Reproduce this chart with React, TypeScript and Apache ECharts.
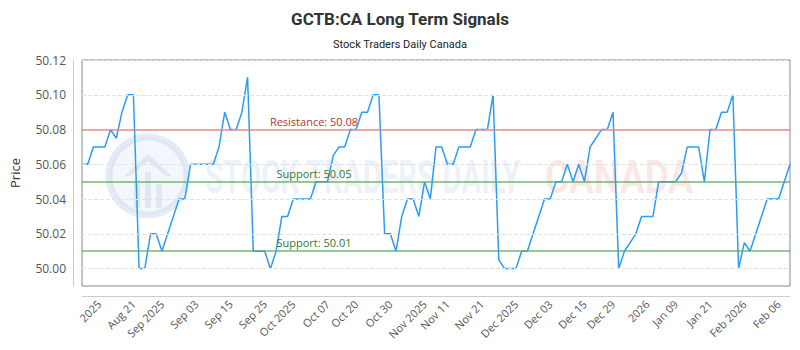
import { useEffect, useRef } from "react";
import * as echarts from "echarts";

const titleText = "GCTB:CA Long Term Signals";
const subtitleText = "Stock Traders Daily Canada";

const prices = [
  50.06, 50.06, 50.07, 50.07, 50.07, 50.08, 50.075, 50.09, 50.1, 50.1,
  50.0, 50.0, 50.02, 50.02, 50.01, 50.02, 50.03, 50.04, 50.04, 50.06,
  50.06, 50.06, 50.06, 50.06, 50.07, 50.09, 50.08, 50.08, 50.09, 50.11,
  50.01, 50.01, 50.01, 50.0, 50.01, 50.03, 50.03, 50.04, 50.04, 50.04,
  50.04, 50.05, 50.05, 50.05, 50.065, 50.07, 50.07, 50.08, 50.08, 50.09,
  50.09, 50.1, 50.1, 50.02, 50.02, 50.01, 50.03, 50.04, 50.04, 50.03,
  50.05, 50.04, 50.07, 50.07, 50.06, 50.06, 50.07, 50.07, 50.07, 50.08,
  50.08, 50.08, 50.1, 50.005, 50.0, 50.0, 50.0, 50.01, 50.01, 50.02,
  50.03, 50.04, 50.04, 50.05, 50.05, 50.06, 50.05, 50.06, 50.05, 50.07,
  50.075, 50.08, 50.08, 50.09, 50.0, 50.01, 50.015, 50.02, 50.03, 50.03,
  50.03, 50.05, 50.05, 50.05, 50.05, 50.055, 50.07, 50.07, 50.07, 50.05,
  50.08, 50.08, 50.09, 50.09, 50.1, 50.0, 50.015, 50.01, 50.02, 50.03,
  50.04, 50.04, 50.04, 50.05, 50.06,
];

const tickIndex = [3, 9, 14, 20, 26, 32, 37, 43, 48, 54, 60, 64, 70, 76, 82, 88, 93, 99, 104, 110, 116, 122];
const tickLabels = [
  "2025", "Aug 21", "Sep 2025", "Sep 03", "Sep 15", "Sep 25", "Oct 2025", "Oct 07",
  "Oct 20", "Oct 30", "Nov 2025", "Nov 11", "Nov 21", "Dec 2025", "Dec 03", "Dec 15",
  "Dec 29", "2026", "Jan 09", "Jan 21", "Feb 2026", "Feb 06",
];

const resistanceLevels = [50.08];
const supportLevels = [50.05, 50.01];

const yMin = 49.99;
const yMax = 50.12;
const yStep = 0.01;
const yLabelValues = [50.0, 50.02, 50.04, 50.06, 50.08, 50.1, 50.12];

export default function App() {
  const ref = useRef<HTMLDivElement>(null);

  useEffect(() => {
    if (!ref.current) return;
    const chart = echarts.init(ref.current, undefined, { renderer: "svg" });
    const categories = prices.map((_, i) => String(i));
    const labelFont = "'Open Sans', sans-serif";

    const gridLineData: any[] = yLabelValues.map((v) => ({
      yAxis: v,
      lineStyle: { color: "#e2e2e2", width: 1, type: "dashed" },
      label: { show: false },
    }));

    const levelData: any[] = [
      ...resistanceLevels.map((v) => ({
        yAxis: v,
        lineStyle: { color: "rgba(236,112,112,0.6)", width: 2, type: "solid" },
        label: { formatter: `Resistance: ${v.toFixed(2)}`, color: "#b0362e" },
      })),
      ...supportLevels.map((v) => ({
        yAxis: v,
        lineStyle: { color: "rgba(96,170,96,0.65)", width: 2, type: "solid" },
        label: { formatter: `Support: ${v.toFixed(2)}`, color: "#2f7a34" },
      })),
    ];

    const markLabel = {
      show: true,
      position: "insideStartTop",
      distance: [232, 3],
      align: "center",
      fontSize: 11,
      fontFamily: labelFont,
    };

    chart.setOption({
      animation: false,
      title: [
        {
          text: titleText,
          left: "center",
          top: 5,
          textStyle: { fontSize: 17, fontWeight: "bold", color: "#333", fontFamily: "Roboto" },
        },
        {
          text: subtitleText,
          left: "center",
          top: 34,
          textStyle: { fontSize: 11, fontWeight: "normal", color: "#222", fontFamily: "Roboto" },
        },
      ],
      graphic: [
        {
          type: "circle",
          silent: true,
          z: 0,
          shape: { cx: 148, cy: 176, r: 39 },
          style: { fill: "rgba(222,230,242,0.35)", stroke: "rgba(200,212,232,0.45)", lineWidth: 7 },
        },
        {
          type: "polygon",
          silent: true,
          z: 0,
          shape: { points: [[124, 176], [148, 154], [172, 176], [166, 176], [148, 161], [130, 176]] },
          style: { fill: "rgba(195,208,230,0.4)" },
        },
        {
          type: "rect",
          silent: true,
          z: 0,
          shape: { x: 134, y: 180, width: 6, height: 28 },
          style: { fill: "rgba(195,208,230,0.4)" },
        },
        {
          type: "rect",
          silent: true,
          z: 0,
          shape: { x: 145, y: 172, width: 6, height: 36 },
          style: { fill: "rgba(195,208,230,0.4)" },
        },
        {
          type: "rect",
          silent: true,
          z: 0,
          shape: { x: 156, y: 184, width: 6, height: 24 },
          style: { fill: "rgba(195,208,230,0.4)" },
        },
        {
          type: "text",
          silent: true,
          z: 0,
          x: 205,
          y: 177,
          scaleX: 0.64,
          style: {
            text: "STOCK TRADERS DAILY",
            fontSize: 46,
            fontWeight: "bold",
            fontFamily: "Roboto",
            fill: "rgba(205,215,235,0.35)",
            verticalAlign: "middle",
            align: "left",
          },
        },
        {
          type: "text",
          silent: true,
          z: 0,
          x: 545,
          y: 177,
          scaleX: 0.8,
          style: {
            text: "CANADA",
            fontSize: 46,
            fontWeight: "bold",
            fontFamily: "Roboto",
            fill: "rgba(245,160,160,0.25)",
            verticalAlign: "middle",
            align: "left",
          },
        },
      ],
      grid: {
        left: 77,
        right: 10,
        top: 60,
        bottom: 64,
        show: true,
        borderColor: "#888",
        borderWidth: 1,
        backgroundColor: "transparent",
      },
      xAxis: {
        type: "category",
        data: categories,
        boundaryGap: false,
        offset: 10,
        axisLine: { show: true, lineStyle: { color: "#ccc" } },
        axisTick: { show: false },
        splitLine: { show: false },
        axisLabel: {
          rotate: 45,
          margin: 6,
          fontSize: 11,
          color: "#555",
          fontFamily: labelFont,
          interval: (index: number) => tickIndex.includes(index),
          formatter: (value: string) => {
            const k = tickIndex.indexOf(Number(value));
            return k >= 0 ? tickLabels[k] : "";
          },
        },
      },
      yAxis: {
        type: "value",
        min: yMin,
        max: yMax,
        interval: yStep,
        offset: 9,
        name: "Price",
        nameLocation: "middle",
        nameGap: 52,
        nameTextStyle: { fontSize: 13, color: "#333", fontFamily: labelFont },
        axisLine: { show: true, lineStyle: { color: "#ccc" } },
        axisTick: { show: false },
        axisLabel: {
          margin: 7,
          fontSize: 12,
          color: "#555",
          fontFamily: labelFont,
          formatter: (v: number) => (Math.round(v * 100) % 2 === 0 ? v.toFixed(2) : ""),
        },
        splitLine: { show: false },
      },
      series: [
        {
          type: "line",
          name: "gridlines",
          data: [],
          z: 1,
          silent: true,
          markLine: {
            silent: true,
            symbol: "none",
            animation: false,
            label: { show: false },
            data: gridLineData,
          },
        },
        {
          type: "line",
          name: "levels",
          data: [],
          z: 2,
          silent: true,
          markLine: {
            silent: true,
            symbol: "none",
            animation: false,
            label: markLabel,
            data: levelData,
          },
        },
        {
          type: "line",
          name: "price",
          data: prices,
          showSymbol: false,
          symbol: "none",
          lineStyle: { color: "#2a9df4", width: 1.5 },
          itemStyle: { color: "#2a9df4" },
          z: 4,
        },
      ],
    });

    return () => chart.dispose();
  }, []);

  return (
    <div
      ref={ref}
      style={{ position: "fixed", left: 0, top: 0, width: 800, height: 350, background: "#fff" }}
    />
  );
}
